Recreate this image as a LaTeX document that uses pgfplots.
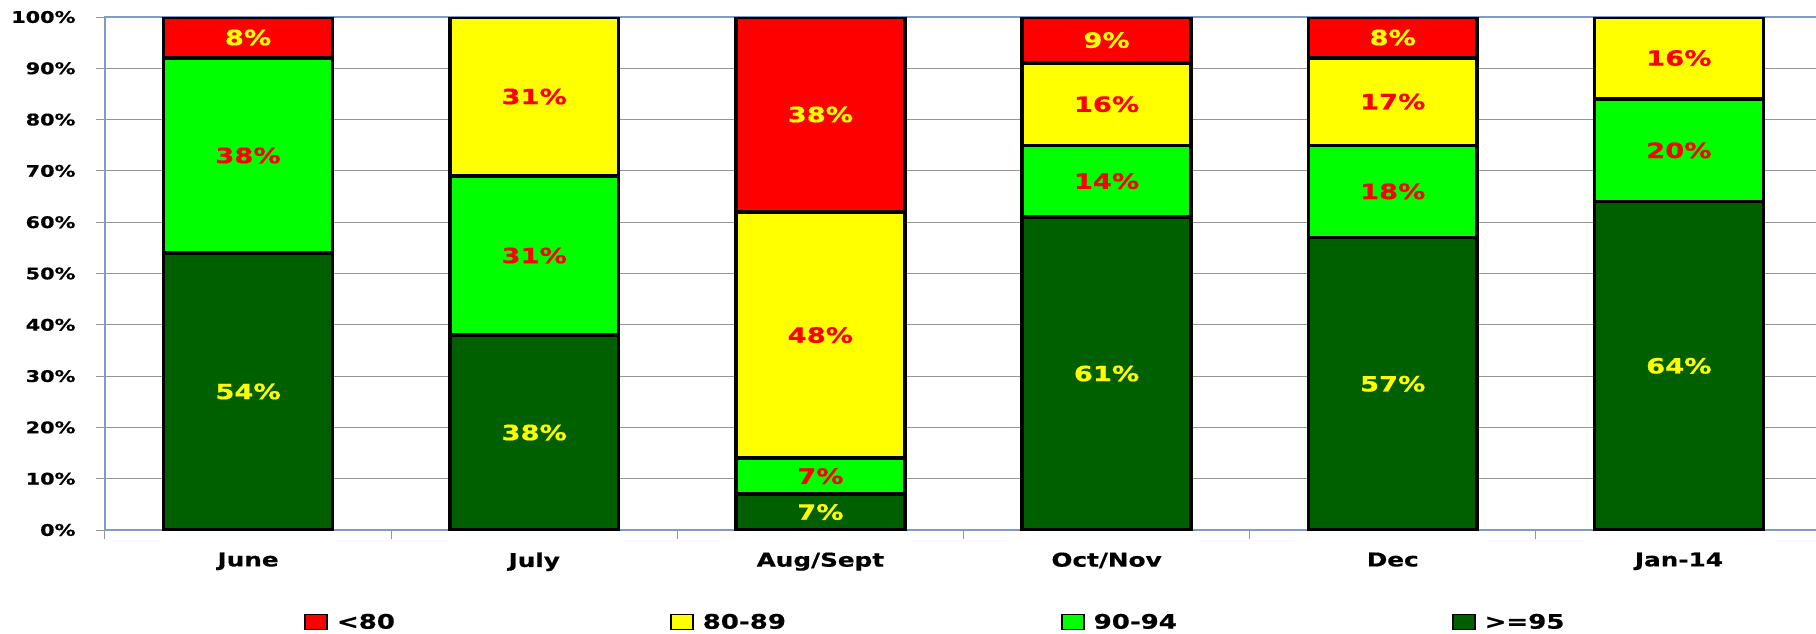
\documentclass[border=0pt]{standalone}
\usepackage{fontspec}
\setmainfont{DejaVu Sans}[FakeStretch=1.3, BoldFeatures={FakeBold=0.6}]
\usepackage{pgfplots}
\pgfplotsset{compat=1.18}
\definecolor{dkgreen}{RGB}{0,96,0}
\definecolor{brgreen}{RGB}{0,255,0}
\definecolor{pureyellow}{RGB}{255,255,0}
\definecolor{purered}{RGB}{255,0,0}
\definecolor{axblue}{RGB}{127,157,196}
\definecolor{gridgray}{RGB}{150,150,150}
\pgfplotsset{sqleg/.style={legend image code/.code={\draw[##1,line width=1.8pt,draw=black] (0pt,-7.5pt) rectangle (22pt,7.5pt);}}}
\begin{document}
\begin{tikzpicture}
\useasboundingbox (-105pt,-103pt) rectangle (1711pt,530pt);
\begin{axis}[
  scale only axis, width=1717pt, height=513pt,
  ybar stacked, bar width=0.59,
  xmin=-0.5, xmax=5.5, ymin=0, ymax=100,
  xtick={-0.5,0.5,...,5.5}, xticklabels={},
  extra x ticks={0,1,2,3,4,5},
  extra x tick labels={June,July,Aug/Sept,Oct/Nov,Dec,Jan-14},
  extra x tick style={major tick length=0pt, grid=none},
  major tick length=9pt,
  tick style={draw=gridgray, line width=1pt},
  ytick={0,10,...,100},
  ymajorgrids, grid style={gridgray, line width=1pt},
  yticklabel={\pgfmathprintnumber{\tick}\%},
  tick align=outside, tickpos=left,
  axis line style={axblue, line width=1.3pt},
  /pgf/number format/assume math mode=true,
  yticklabel style={font=\fontsize{16}{16}\selectfont\bfseries, xshift=-17pt},
  xticklabel style={font=\fontsize{19}{19}\selectfont\bfseries, yshift=-19pt},
  legend columns=4, reverse legend,
  legend style={draw=none, at={(0,0)}, anchor=west, xshift=196pt, yshift=-92pt,
    font=\fontsize{20}{20}\selectfont\bfseries,
    /tikz/every odd column/.append style={column sep=7pt},
    /tikz/every even column/.append style={column sep=273pt}},
]
\addplot[fill=dkgreen, draw=black, line width=3.5pt, sqleg] coordinates {(0,54) (1,38) (2,7) (3,61) (4,57) (5,64)};
\addlegendentry{>=95}
\addplot[fill=brgreen, draw=black, line width=3.5pt, sqleg] coordinates {(0,38) (1,31) (2,7) (3,14) (4,18) (5,20)};
\addlegendentry{90-94}
\addplot[fill=pureyellow, draw=black, line width=3.5pt, sqleg] coordinates {(0,0) (1,31) (2,48) (3,16) (4,17) (5,16)};
\addlegendentry{80-89}
\addplot[fill=purered, draw=black, line width=3.5pt, sqleg] coordinates {(0,8) (1,0) (2,38) (3,9) (4,8) (5,0)};
\addlegendentry{<80}
\end{axis}
\begin{axis}[
  scale only axis, width=1717pt, height=513pt,
  xmin=-0.5, xmax=5.5, ymin=0, ymax=100,
  hide axis, clip=false,
  nodes near coords, point meta=explicit symbolic,
  every node near coord/.append style={anchor=center, font=\fontsize{21}{21}\selectfont\bfseries},
]
\addplot[draw=none, mark=none, every node near coord/.append style={text=pureyellow, anchor=center}] coordinates {
 (0,27)[54\%] (1,19)[38\%] (2,3.5)[7\%] (3,30.5)[61\%] (4,28.5)[57\%] (5,32)[64\%]
 (0,96)[8\%] (2,81)[38\%] (3,95.5)[9\%] (4,96)[8\%]};
\addplot[draw=none, mark=none, every node near coord/.append style={text=purered, anchor=center}] coordinates {
 (0,73)[38\%] (1,53.5)[31\%] (2,10.5)[7\%] (3,68)[14\%] (4,66)[18\%] (5,74)[20\%]
 (1,84.5)[31\%] (2,38)[48\%] (3,83)[16\%] (4,83.5)[17\%] (5,92)[16\%]};
\end{axis}
\end{tikzpicture}
\end{document}
